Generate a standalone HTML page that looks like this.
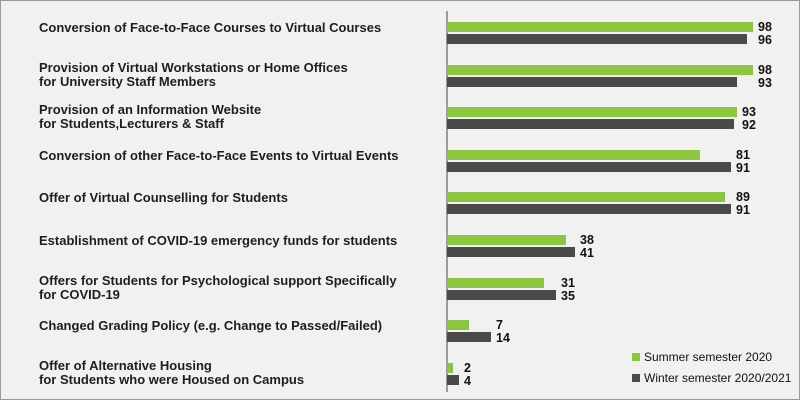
<!DOCTYPE html>
<html><head><style>
body{margin:0;width:800px;height:400px;overflow:hidden;background:#f3f3f3;font-family:"Liberation Sans",sans-serif;}
#c{position:relative;width:798px;height:398px;border:1px solid #9a9a9a;background:#f1f1f1;}
.l{position:absolute;left:38px;font-size:13px;font-weight:bold;color:#1e1e1e;line-height:16px;}
.l.t{line-height:14px;}
.b{position:absolute;left:446px;height:10px;}
.g{background:#8cc63f;}
.d{background:#4a4a4a;}
.v{position:absolute;font-size:12.5px;font-weight:bold;color:#111;line-height:12px;}
.ax{position:absolute;left:445px;top:10px;width:2px;height:381px;background:#9a9a9a;}
.lg{position:absolute;font-size:12px;color:#111;}
.sq{position:absolute;width:8px;height:8px;}
</style></head><body><div id="c">
<div class="ax"></div>
<div id="rows"></div>
<div class="sq g" style="left:631px;top:352px"></div><div class="lg" style="left:643px;top:349px">Summer semester 2020</div>
<div class="sq d" style="left:631px;top:373px"></div><div class="lg" style="left:643px;top:370px">Winter semester 2020/2021</div>
</div>
<script>
var d=[["Conversion of Face-to-Face Courses to Virtual Courses",98,96],
["Provision of Virtual Workstations or Home Offices<br>for University Staff Members",98,93],
["Provision of an Information Website<br>for Students,Lecturers &amp; Staff",93,92],
["Conversion of other Face-to-Face Events to Virtual Events",81,91],
["Offer of Virtual Counselling for Students",89,91],
["Establishment of COVID-19 emergency funds for students",38,41],
["Offers for Students for Psychological support Specifically<br>for COVID-19",31,35],
["Changed Grading Policy (e.g. Change to Passed/Failed)",7,14],
["Offer of Alternative Housing<br>for Students who were Housed on Campus",2,4]];
var h="",k=3.12;
d.forEach(function(r,i){var y=Math.round(21+i*42.6);var two=r[0].indexOf("<br>")>0;
var ty=two?y-4:y-2;
h+='<div class="l'+(two?' t':'')+'" style="top:'+ty+'px">'+r[0]+'</div>';
h+='<div class="b g" style="top:'+y+'px;width:'+Math.round(r[1]*k)+'px"></div>';
h+='<div class="b d" style="top:'+(y+12)+'px;width:'+Math.round(r[2]*k)+'px"></div>';
var vx=446+Math.round(Math.max(r[1],r[2])*k)+5;
h+='<div class="v" style="left:'+vx+'px;top:'+(y-1)+'px">'+r[1]+'</div>';
h+='<div class="v" style="left:'+vx+'px;top:'+(y+12)+'px">'+r[2]+'</div>';});
document.getElementById("rows").innerHTML=h;
</script>
</body></html>
